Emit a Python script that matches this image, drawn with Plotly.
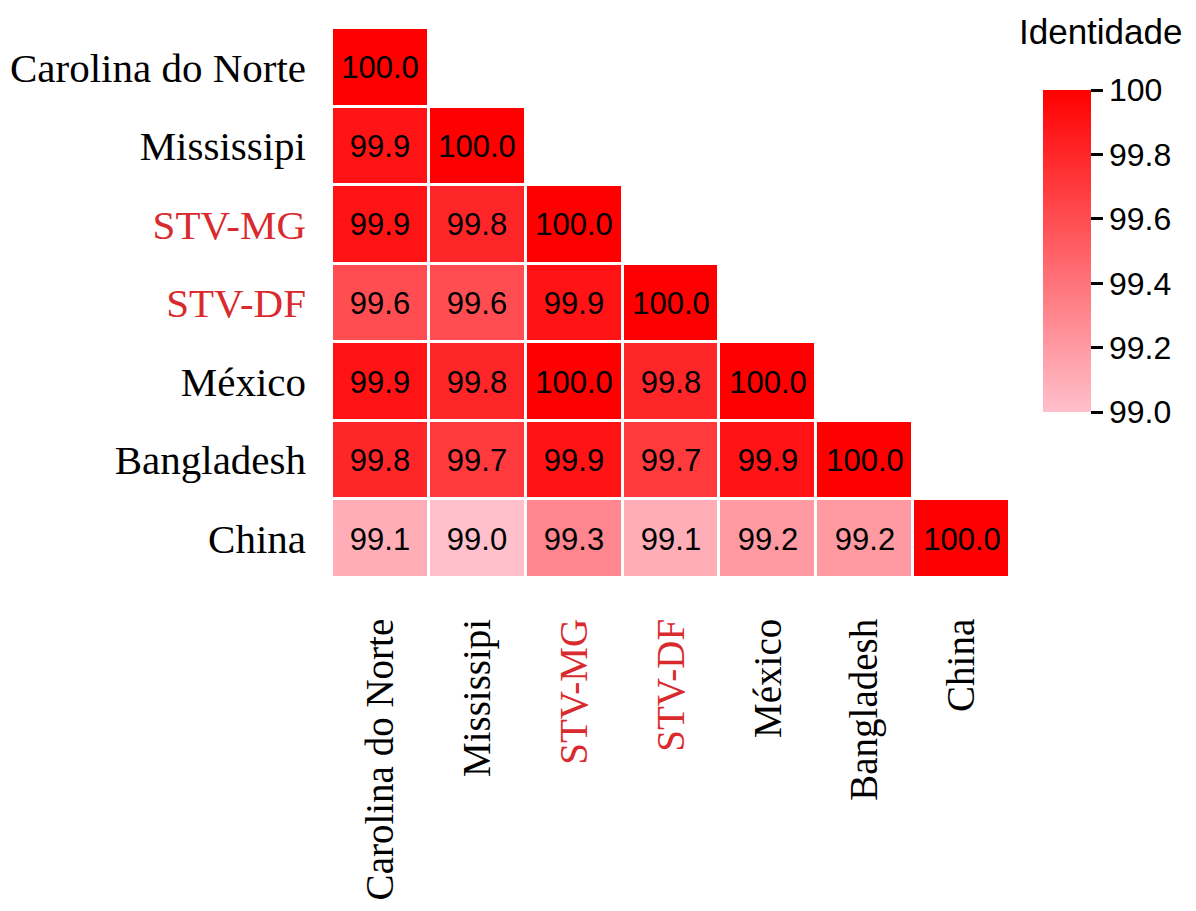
import plotly.graph_objects as go

labels = ["Carolina do Norte", "Mississipi", "STV-MG", "STV-DF", "México", "Bangladesh", "China"]
label_colors = ["black", "black", "#d92a2e", "#d92a2e", "black", "black", "black"]

rows = [
    [100.0],
    [99.9, 100.0],
    [99.9, 99.8, 100.0],
    [99.6, 99.6, 99.9, 100.0],
    [99.9, 99.8, 100.0, 99.8, 100.0],
    [99.8, 99.7, 99.9, 99.7, 99.9, 100.0],
    [99.1, 99.0, 99.3, 99.1, 99.2, 99.2, 100.0],
]

cb_tickvals = [99.0, 99.2, 99.4, 99.6, 99.8, 100.0]
cb_ticktext = ["99.0", "99.2", "99.4", "99.6", "99.8", "100"]

n = len(labels)
z = [r + [None] * (n - len(r)) for r in rows]
ticktext = [f'<span style="color:{c}">{l}</span>' for l, c in zip(labels, label_colors)]

fig = go.Figure(go.Heatmap(
    z=z, x=list(range(n)), y=list(range(n)),
    zmin=99.0, zmax=100.0,
    colorscale=[[0, "rgb(255,192,203)"], [1, "rgb(255,0,0)"]],
    xgap=3, ygap=3,
    texttemplate="%{z:.1f}",
    textfont=dict(family="Liberation Sans, Arial", size=31, color="black"),
    hoverongaps=False,
    colorbar=dict(
        x=1.0487, xanchor="left", xpad=0,
        y=0.887, yanchor="top", ypad=0,
        lenmode="pixels", len=322, thickness=48,
        outlinewidth=0,
        tickmode="array", tickvals=cb_tickvals, ticktext=cb_ticktext,
        ticks="outside", ticklen=12, tickwidth=3, tickcolor="black",
        tickfont=dict(family="Liberation Sans, Arial", size=32, color="black"),
    ),
))

fig.update_xaxes(
    tickmode="array", tickvals=list(range(n)), ticktext=ticktext,
    tickangle=-90, showgrid=False, zeroline=False, showline=False,
    ticks="", ticklabelstandoff=32, automargin=False,
    tickfont=dict(family="Liberation Serif, Times New Roman", size=39, color="black"),
)
fig.update_yaxes(
    tickmode="array", tickvals=list(range(n)), ticktext=ticktext,
    autorange="reversed", showgrid=False, zeroline=False, showline=False,
    ticks="", ticklabelstandoff=25, automargin=False,
    tickfont=dict(family="Liberation Serif, Times New Roman", size=41, color="black"),
)

fig.add_annotation(
    text="Identidade", xref="paper", yref="paper",
    x=1.134, y=0.9945, xanchor="center", yanchor="middle",
    showarrow=False,
    font=dict(family="Liberation Sans, Arial", size=35, color="black"),
)

fig.update_layout(
    width=1196, height=911,
    margin=dict(l=332, r=186, t=28, b=333, autoexpand=False),
    plot_bgcolor="white", paper_bgcolor="white",
)

fig.write_html("out.html")
